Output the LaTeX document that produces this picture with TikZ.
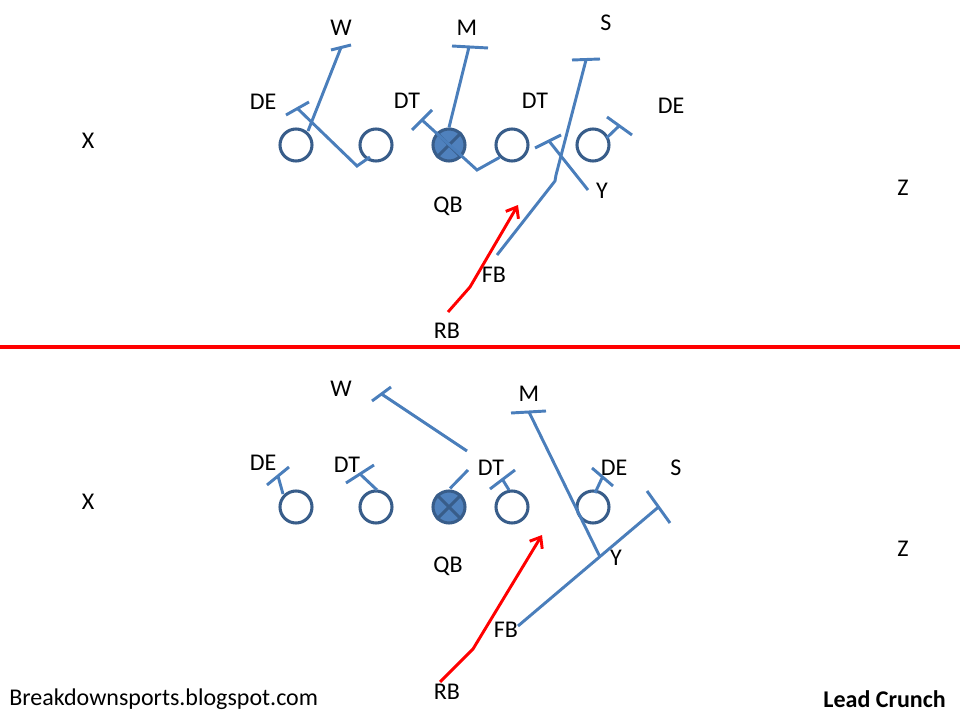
\documentclass[tikz,border=0pt]{standalone}
\usepackage{fontspec}
\setmainfont{Carlito}
\usetikzlibrary{arrows.meta,calc}
\definecolor{routeblue}{HTML}{4A7EBB}
\definecolor{ringblue}{HTML}{385D8A}
\definecolor{qbfill}{HTML}{4F81BD}
\begin{document}
\begin{tikzpicture}[x=0.75pt,y=-0.75pt,
  player/.style={circle,draw=ringblue,line width=2.3pt,fill=white,minimum size=24pt,inner sep=0pt},
  center/.style={player,fill=qbfill},
  lbl/.style={font=\fontsize{18}{21}\selectfont,inner sep=0pt},
  routeline/.style={draw=routeblue,line width=2.2pt},
  crossline/.style={draw=ringblue,line width=2.2pt},
  runarrow/.style={draw=red,line width=2.2pt,-{Straight Barb[length=7pt,width=11pt]}}]
\useasboundingbox (0,0) rectangle (960,720);

% ================= TOP DIAGRAM =================
\node[player] (t1) at (296,145) {};
\node[player] (t2) at (376,145) {};
\node[center] (tq) at (449,145) {};
\node[player] (t4) at (512,145) {};
\node[player] (t5) at (593,145) {};
\draw[crossline] (tq.north east) -- (tq.south west) (tq.north west) -- (tq.south east);

\node[lbl] (tW) at (341,28) {W};
\node[lbl] (tM) at (467,28) {M};
\node[lbl] (tS) at (606,23) {S};
\node[lbl] (tDE1) at (263,102) {DE};
\node[lbl] (tDT1) at (407,101) {DT};
\node[lbl] (tDT2) at (535,101) {DT};
\node[lbl] (tDE2) at (671,106) {DE};
\node[lbl] (tX) at (88,141) {X};
\node[lbl] (tY) at (602,191) {Y};
\node[lbl] (tZ) at (903,188) {Z};
\node[lbl] (tQB) at (448,206) {QB};
\node[lbl] (tFB) at (494,275) {FB};
\node[lbl] (tRB) at (447,331) {RB};

% W
\coordinate (tWa) at (331,50); \coordinate (tWb) at (351,45);
\draw[routeline] (308,131) -- ($(tWa)!0.5!(tWb)$);
\draw[routeline] (tWa) -- (tWb);
% DE left block (from second lineman)
\coordinate (tBa) at (286,115); \coordinate (tBb) at (309,102);
\draw[routeline] (370,157) -- (357,166) -- ($(tBa)!0.5!(tBb)$);
\draw[routeline] (tBa) -- (tBb);
% DT left block (from fourth lineman through centre)
\coordinate (tCa) at (412,130); \coordinate (tCb) at (432,110);
\draw[routeline] (t4.south west) -- (477,170) -- ($(tCa)!0.5!(tCb)$);
\draw[routeline] (tCa) -- (tCb);
% M
\coordinate (tMa) at (452,46); \coordinate (tMb) at (488,48);
\draw[routeline] (tq.north) -- (469,47);
\draw[routeline] (tMa) -- (tMb);
% FB to S
\coordinate (tSa) at (572,60); \coordinate (tSb) at (600,59);
\draw[routeline] (497,255) -- (555,181) -- (556,175) -- (586,60);
\draw[routeline] (tSa) -- (tSb);
% Y block
\coordinate (tYa) at (535,148); \coordinate (tYb) at (561,135);
\draw[routeline] (588,190) -- (549,141);
\draw[routeline] (tYa) -- (tYb);
% DE right block
\coordinate (tEa) at (607,117); \coordinate (tEb) at (632,135);
\draw[routeline] (t5.east) ++(-4,-7) -- (619,126);
\draw[routeline] (tEa) -- (tEb);
% RB run
\draw[runarrow] (448,312) -- (470,287) -- (518,205);

% divider
\draw[red,line width=2.3pt] (0,347) -- (960,347);

% ================= BOTTOM DIAGRAM =================
\node[player] (b1) at (296,507) {};
\node[player] (b2) at (376,507) {};
\node[center] (bq) at (449,507) {};
\node[player] (b4) at (512,507) {};
\node[player] (b5) at (593,507) {};
\draw[crossline] (bq.north east) -- (bq.south west) (bq.north west) -- (bq.south east);

\node[lbl] (bW) at (341,389) {W};
\node[lbl] (bM) at (529,394) {M};
\node[lbl] (bDE1) at (263,463) {DE};
\node[lbl] (bDT1) at (347,465) {DT};
\node[lbl] (bDT2) at (491,468) {DT};
\node[lbl] (bDE2) at (614,468) {DE};
\node[lbl] (bS) at (676,468) {S};
\node[lbl] (bX) at (88,502) {X};
\node[lbl] (bZ) at (903,549) {Z};
\node[lbl] (bQB) at (448,566) {QB};
\node[lbl] (bY) at (616,558) {Y};
\node[lbl] (bFB) at (506,630) {FB};
\node[lbl] (bRB) at (447,692) {RB};

% DE left
\coordinate (bDa) at (267,485); \coordinate (bDb) at (289,467);
\draw[routeline] (283,494) -- ($(bDa)!0.5!(bDb)$);
\draw[routeline] (bDa) -- (bDb);
% DT left
\coordinate (bTa) at (346,483); \coordinate (bTb) at (374,465);
\draw[routeline] (377,490) -- ($(bTa)!0.5!(bTb)$);
\draw[routeline] (bTa) -- (bTb);
% centre release
\draw[routeline] (bq.north) ++(1,-1) -- (468,470);
% W
\coordinate (bWa) at (372,401); \coordinate (bWb) at (391,387);
\draw[routeline] (467,451) -- ($(bWa)!0.5!(bWb)$);
\draw[routeline] (bWa) -- (bWb);
% DT right
\coordinate (bRa) at (490,489); \coordinate (bRb) at (515,470);
\draw[routeline] (509,490) -- ($(bRa)!0.5!(bRb)$);
\draw[routeline] (bRa) -- (bRb);
% DE right
\coordinate (bEa) at (592,468); \coordinate (bEb) at (613,486);
\draw[routeline] (595,493) -- ($(bEa)!0.5!(bEb)$);
\draw[routeline] (bEa) -- (bEb);
% Y to M
\coordinate (bMa) at (511,413); \coordinate (bMb) at (546,411);
\draw[routeline] (600,557) -- (529,412);
\draw[routeline] (bMa) -- (bMb);
% FB to S
\coordinate (bSa) at (647,491); \coordinate (bSb) at (670,523);
\draw[routeline] (518,626) -- ($(bSa)!0.5!(bSb)$);
\draw[routeline] (bSa) -- (bSb);
% RB run
\draw[runarrow] (440,682) -- (473,649) -- (542,535);

% footer
\node[lbl,anchor=west] (site) at (9,699) {Breakdownsports.blogspot.com};
\node[lbl,anchor=east,font=\fontsize{18}{21}\selectfont\bfseries] (title) at (946,699) {Lead Crunch};
\end{tikzpicture}
\end{document}
